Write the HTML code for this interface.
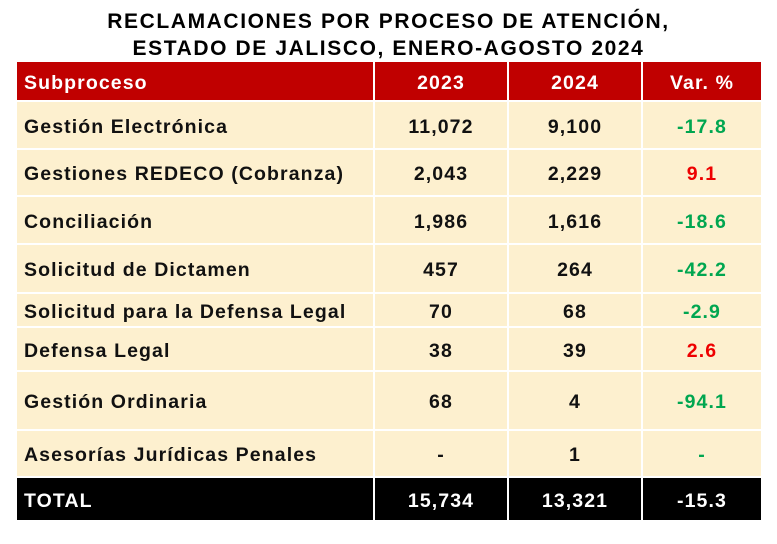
<!DOCTYPE html>
<html><head><meta charset="utf-8"><style>
body{margin:0;width:777px;height:544px;background:#fff;font-family:"Liberation Sans",sans-serif;font-weight:bold;position:relative;overflow:hidden}
.t{position:absolute;left:0;width:777px;text-align:center;font-size:21px;color:#000;letter-spacing:1.6px}
.c{position:absolute;display:flex;align-items:center;font-size:19.5px;box-sizing:border-box;letter-spacing:1.1px;padding-top:4px}
.l{padding-left:7px}
.m{justify-content:center}
</style></head><body>
<div class="t" style="top:10px">RECLAMACIONES POR PROCESO DE ATENCIÓN,</div>
<div class="t" style="top:37px">ESTADO DE JALISCO, ENERO-AGOSTO 2024</div>
<div id="tb"></div>
<script>
var rows=[["Subproceso","2023","2024","Var. %"],
["Gestión Electrónica","11,072","9,100","-17.8"],
["Gestiones REDECO (Cobranza)","2,043","2,229","9.1"],
["Conciliación","1,986","1,616","-18.6"],
["Solicitud de Dictamen","457","264","-42.2"],
["Solicitud para la Defensa Legal","70","68","-2.9"],
["Defensa Legal","38","39","2.6"],
["Gestión Ordinaria","68","4","-94.1"],
["Asesorías Jurídicas Penales","-","1","-"],
["TOTAL","15,734","13,321","-15.3"]];
var ys=[62,101,149,196,244,293,327,371,430,477,521];
var xs=[17,374,508,642,761];
var h="";
for(var r=0;r<rows.length;r++){
 var bg=r==0?"#c00000":(r==9?"#000":"#fdf0cf");
 var fg=(r==0||r==9)?"#fff":"#111";
 for(var c=0;c<4;c++){
  var x0=xs[c]+(c?1:0),x1=xs[c+1]-(c<3?1:0);
  var y0=ys[r]+(r?1:0),y1=ys[r+1]-1;
  var col=fg;
  if(c==3&&r>0&&r<9){col=rows[r][3].charAt(0)=="-"?"#00a650":"#ee0000";}
  h+='<div class="c '+(c==0?'l':'m')+'" style="left:'+x0+'px;top:'+y0+'px;width:'+(x1-x0)+'px;height:'+(y1-y0)+'px;background:'+bg+';color:'+col+'">'+rows[r][c]+'</div>';
 }
}
document.getElementById("tb").innerHTML=h;
</script>
</body></html>
